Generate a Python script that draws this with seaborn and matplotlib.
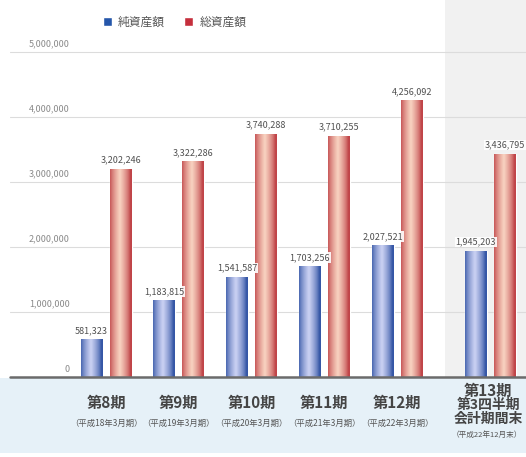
import numpy as np
import pandas as pd
import matplotlib
matplotlib.use("Agg")
import matplotlib.pyplot as plt
import seaborn as sns
from matplotlib.patches import Rectangle
from matplotlib.colors import to_rgb

# --- data -------------------------------------------------------------
periods = ["第8期", "第9期", "第10期", "第11期", "第12期", "第13期\n第3四半期\n会計期間末"]
fiscal = ["（平成18年3月期）", "（平成19年3月期）", "（平成20年3月期）",
          "（平成21年3月期）", "（平成22年3月期）", "（平成22年12月末）"]
series_names = ["純資産額", "総資産額"]
net_assets = [581323, 1183815, 1541587, 1703256, 2027521, 1945203]
total_assets = [3202246, 3322286, 3740288, 3710255, 4256092, 3436795]
y_ticks = [0, 1000000, 2000000, 3000000, 4000000, 5000000]

# layout: horizontal slot of each period (the last one sits a little apart)
group_pos = [0, 1, 2, 3, 4, 5.28]

df = pd.DataFrame({
    "pos": group_pos * 2,
    "series": [series_names[0]] * len(periods) + [series_names[1]] * len(periods),
    "value": net_assets + total_assets,
})

# --- style --------------------------------------------------------------
sns.set_theme(style="white")
plt.rcParams["font.family"] = ["Noto Sans CJK JP", "DejaVu Sans"]

W, H = 526, 457
fig = plt.figure(figsize=(W / 100, H / 100), dpi=100)
AX_BOTTOM = 377  # pixel row of the baseline
ax = fig.add_axes([10 / W, (H - AX_BOTTOM) / H, 516 / W, AX_BOTTOM / H])

# pale band behind the period labels
fig.patches.append(Rectangle((0, 4 / H), 1, (H - AX_BOTTOM - 5) / H,
                             transform=fig.transFigure, facecolor="#e6f1f8",
                             edgecolor="none", zorder=-1))

blue_edge, blue_mid = "#3556a6", "#cdd3f4"
red_edge, red_mid = "#c04448", "#f9d4c2"

sns.barplot(data=df, x="pos", y="value", hue="series", hue_order=series_names,
            palette=["#2556aa", "#c52f3c"], native_scale=True, width=0.8,
            gap=0.25, saturation=1, ax=ax, legend=True, errorbar=None)

XMIN, XMAX = -1.32, 5.77
YMAX = 5.8e6

# shaded block for the interim period
ax.axvspan(4.66, XMAX + 1, color="#f1f1f1", zorder=0.2, lw=0)


def cylinder(edge, mid, n=96):
    t = np.linspace(0, 1, n)
    w = np.clip(1 - np.abs(t - 0.45) / 0.47, 0, 1) ** 0.7
    e, m = np.array(to_rgb(edge)), np.array(to_rgb(mid))
    return (e[None, :] + (m - e)[None, :] * w[:, None])[None, :, :]


grads = [cylinder(blue_edge, blue_mid), cylinder(red_edge, red_mid)]
for cont, grad in zip(ax.containers, grads):
    for bar in cont:
        x0 = bar.get_x()
        w = bar.get_width()
        h = bar.get_height()
        im = ax.imshow(grad, extent=[x0, x0 + w, 0, h], aspect="auto",
                       interpolation="bicubic", zorder=bar.get_zorder() + 0.1)
        im.set_clip_path(bar)
    ax.bar_label(cont, labels=[f"{v:,.0f}" for v in cont.datavalues],
                 padding=3, fontsize=6.5, color="#505050",
                 bbox=dict(facecolor="white", edgecolor="none", pad=0.6, alpha=0.9),
                 zorder=6)

ax.set_xlim(XMIN, XMAX)
ax.set_ylim(0, YMAX)

# grid and baseline
ax.set_yticks(y_ticks)
ax.set_yticklabels([])
ax.tick_params(left=False, bottom=False)
ax.yaxis.grid(True, color="#dcdcdc", lw=0.8)
ax.set_axisbelow(True)
ax.axhline(0, color="#6b6b6b", lw=1.8, zorder=7, clip_on=False)
for s in ax.spines.values():
    s.set_visible(False)

for t in y_ticks:
    ax.annotate(f"{t:,}", xy=(0.116, t), xycoords=ax.get_yaxis_transform(),
                xytext=(0, 2.5), textcoords="offset points", ha="right",
                va="bottom", fontsize=6.5, color="#8a8a8a")

# period labels
ax.set_xticks([])
ax.set_xlabel("")
ax.set_ylabel("")
xt = ax.get_xaxis_transform()


def yfrac(py):
    return (AX_BOTTOM - py) / AX_BOTTOM


for p, name, sub in zip(group_pos, periods, fiscal):
    lines = name.split("\n")
    if len(lines) == 1:
        ax.text(p, yfrac(403), lines[0], transform=xt, ha="center", va="center",
                fontsize=11, fontweight="bold", color="#454545", clip_on=False)
        ax.text(p, yfrac(423), sub, transform=xt, ha="center", va="center",
                fontsize=6, color="#555555", clip_on=False)
    else:
        for k, (ln, py) in enumerate(zip(lines, [391, 405, 419])):
            ax.text(p - 0.03, yfrac(py), ln, transform=xt, ha="center", va="center",
                    fontsize=11 if k == 0 else 10, fontweight="bold",
                    color="#454545", clip_on=False)
        ax.text(p - 0.05, yfrac(435), sub, transform=xt, ha="center", va="center",
                fontsize=5.5, color="#555555", clip_on=False)

# legend across the top
sns.move_legend(ax, "center left", bbox_to_anchor=((92 - 10) / 516, yfrac(22)),
                ncol=2, frameon=False, title=None, fontsize=8.5,
                handlelength=0.8, handleheight=0.8, handletextpad=0.5,
                columnspacing=1.6, labelcolor="#555555")

fig.savefig("out.png", dpi=100)
